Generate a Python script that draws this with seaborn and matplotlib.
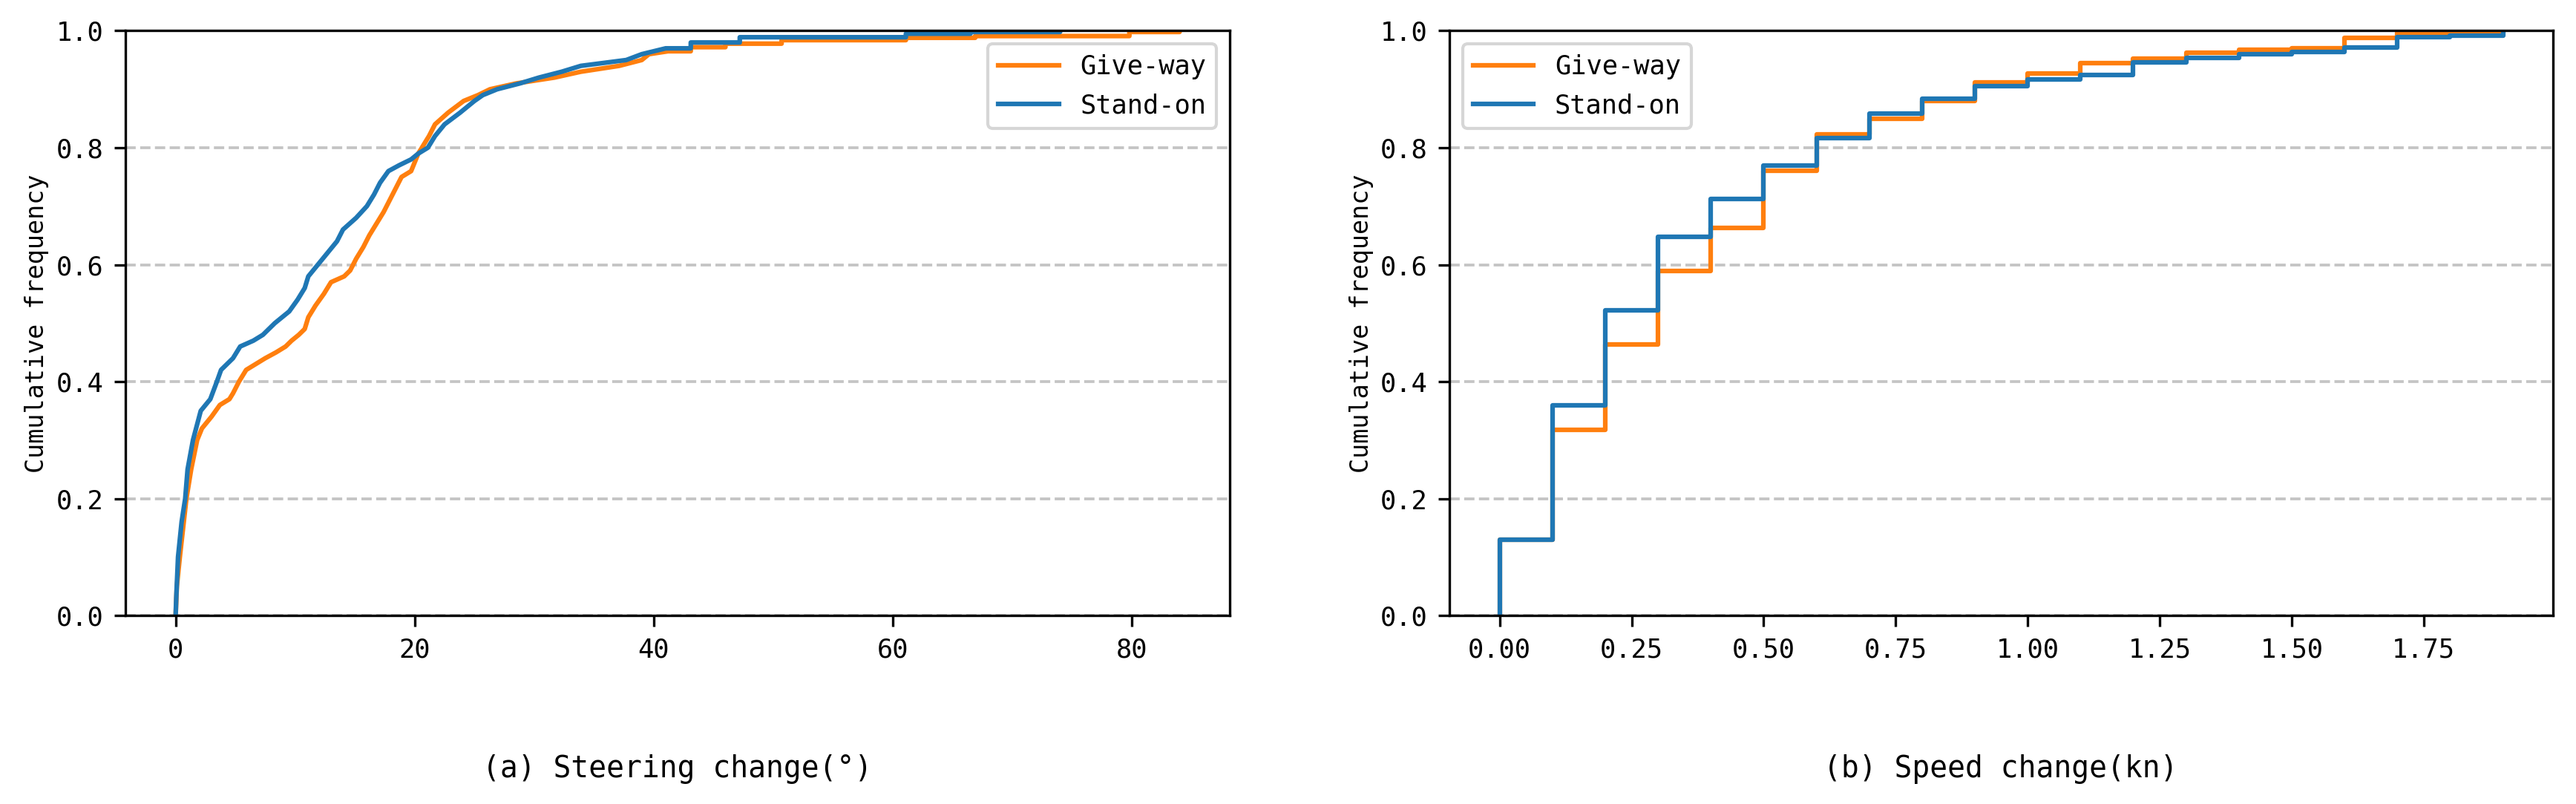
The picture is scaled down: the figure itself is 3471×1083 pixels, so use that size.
import pandas as pd
import seaborn as sns
import matplotlib.pyplot as plt

# steering change (deg) vs cumulative frequency
steer_giveway_x = [0.0, 0.1, 0.35, 0.9, 1.3, 1.8, 2.2, 3.0, 3.7, 4.5, 4.8, 5.3, 5.9, 6.7, 7.5,
                   8.4, 9.2, 9.7, 10.3, 10.8, 11.1, 11.7, 12.4, 13.0, 14.1, 14.6, 15.1, 15.7,
                   16.2, 16.8, 17.4, 17.9, 18.4, 18.9, 19.7, 20.3, 20.6, 21.2, 21.7, 22.8,
                   24.1, 25.3, 26.3, 28.5, 30.1, 31.7, 33.9, 35.5, 37.1, 39.0, 39.6, 41.2,
                   43.1, 43.1, 46.0, 46.0, 50.7, 50.7, 61.1, 61.1, 66.9, 66.9, 79.8, 79.8,
                   84.0, 84.0]
steer_giveway_y = [0.0, 0.05, 0.10, 0.20, 0.25, 0.30, 0.32, 0.34, 0.36, 0.37, 0.38, 0.40, 0.42,
                   0.43, 0.44, 0.45, 0.46, 0.47, 0.48, 0.49, 0.51, 0.53, 0.55, 0.57, 0.58, 0.59,
                   0.61, 0.63, 0.65, 0.67, 0.69, 0.71, 0.73, 0.75, 0.76, 0.79, 0.80, 0.82, 0.84,
                   0.86, 0.88, 0.89, 0.90, 0.91, 0.915, 0.92, 0.93, 0.935, 0.94, 0.95, 0.96,
                   0.965, 0.965, 0.972, 0.972, 0.978, 0.978, 0.984, 0.984, 0.988, 0.988, 0.991,
                   0.991, 0.998, 0.998, 1.0]

steer_standon_x = [0.0, 0.05, 0.2, 0.5, 0.8, 1.0, 1.45, 2.1, 2.9, 3.45, 3.8, 4.8, 5.4, 6.5, 7.3,
                   8.3, 9.5, 10.2, 10.8, 11.1, 11.9, 12.7, 13.5, 14.0, 15.1, 16.0, 16.6, 17.1,
                   17.8, 18.7, 19.7, 20.3, 21.1, 21.7, 22.5, 23.8, 25.0, 25.7, 26.9, 28.8, 30.4,
                   32.3, 33.9, 35.8, 37.7, 39.0, 41.0, 43.1, 43.1, 47.2, 47.2, 61.1, 61.1, 66.5,
                   66.5, 74.0, 74.0]
steer_standon_y = [0.0, 0.03, 0.10, 0.16, 0.20, 0.25, 0.30, 0.35, 0.37, 0.40, 0.42, 0.44, 0.46,
                   0.47, 0.48, 0.50, 0.52, 0.54, 0.56, 0.58, 0.60, 0.62, 0.64, 0.66, 0.68, 0.70,
                   0.72, 0.74, 0.76, 0.77, 0.78, 0.79, 0.80, 0.82, 0.84, 0.86, 0.88, 0.89, 0.90,
                   0.91, 0.92, 0.93, 0.94, 0.945, 0.95, 0.96, 0.97, 0.97, 0.98, 0.98, 0.989,
                   0.989, 0.995, 0.995, 0.998, 0.998, 1.0]

# speed change (kn) levels and cumulative frequency after each level
speed_levels = [0.0, 0.1, 0.2, 0.3, 0.4, 0.5, 0.6, 0.7, 0.8, 0.9,
                1.0, 1.1, 1.2, 1.3, 1.4, 1.5, 1.6, 1.7, 1.8, 1.9]
speed_giveway_cdf = [0.130, 0.317, 0.463, 0.589, 0.663, 0.761, 0.823, 0.849, 0.880, 0.912,
                     0.927, 0.945, 0.952, 0.963, 0.967, 0.970, 0.988, 0.997, 0.997, 1.0]
speed_standon_cdf = [0.130, 0.359, 0.522, 0.647, 0.712, 0.770, 0.817, 0.859, 0.884, 0.906,
                     0.917, 0.924, 0.946, 0.953, 0.960, 0.964, 0.971, 0.989, 0.992, 1.0]

groups = ['Give-way', 'Stand-on']
colors = {'Give-way': '#ff7f0e', 'Stand-on': '#1f77b4'}

#%%
steer = pd.concat([
    pd.DataFrame({'value': steer_giveway_x, 'cdf': steer_giveway_y, 'group': 'Give-way'}),
    pd.DataFrame({'value': steer_standon_x, 'cdf': steer_standon_y, 'group': 'Stand-on'}),
], ignore_index=True)

speed = pd.concat([
    pd.DataFrame({'value': [0.0] + speed_levels, 'cdf': [0.0] + speed_giveway_cdf, 'group': 'Give-way'}),
    pd.DataFrame({'value': [0.0] + speed_levels, 'cdf': [0.0] + speed_standon_cdf, 'group': 'Stand-on'}),
], ignore_index=True)

#%%
plt.rcParams['font.family'] = ['DejaVu Sans Mono']
plt.rcParams['font.size'] = 8.5

fig = plt.figure(figsize=(3471 / 300, 1083 / 300), dpi=300)
ax1 = fig.add_axes([0.0487, 0.2345, 0.4287, 0.7272])
ax2 = fig.add_axes([0.5627, 0.2345, 0.4284, 0.7272])

sns.lineplot(data=steer, x='value', y='cdf', hue='group', hue_order=groups, palette=colors,
             estimator=None, sort=False, linewidth=1.5, ax=ax1)
sns.lineplot(data=speed, x='value', y='cdf', hue='group', hue_order=groups, palette=colors,
             estimator=None, sort=False, linewidth=1.5, drawstyle='steps-post', ax=ax2)

for ax in (ax1, ax2):
    ax.set_ylim(0, 1)
    ax.set_xlabel('')
    ax.set_ylabel('Cumulative frequency', fontsize=8)
    ax.yaxis.set_label_coords(-0.069, 0.5)
    ax.grid(axis='y', linestyle='--', color='#c4c4c4', linewidth=0.9)

sns.move_legend(ax1, 'upper right', title=None, handlelength=2.3)
sns.move_legend(ax2, 'upper left', title=None, handlelength=2.3)

fig.text(0.263, 0.0434, '(a) Steering change(°)', ha='center', va='center', fontsize=9.5)
fig.text(0.7767, 0.0434, '(b) Speed change(kn)', ha='center', va='center', fontsize=9.5)

plt.savefig('out.png', dpi=300)
